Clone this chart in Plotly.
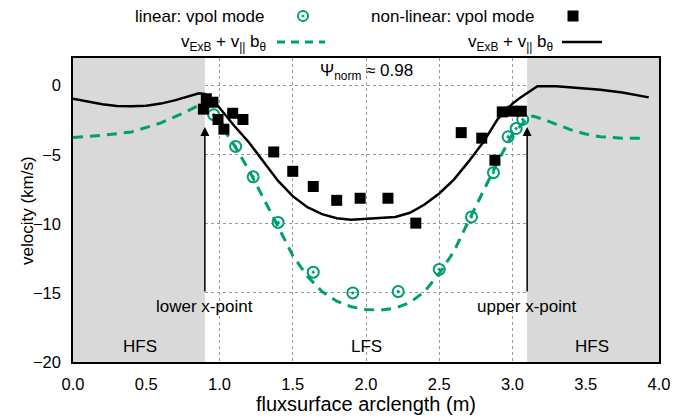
import plotly.graph_objects as go

# ---- data ----
# non-linear: vExB + v|| b_theta (solid black)
nl_line_x = [0.0, 0.1, 0.2, 0.3, 0.4, 0.5, 0.6, 0.7, 0.8, 0.86, 0.9, 0.95, 1.0, 1.1, 1.2,
             1.3, 1.4, 1.5, 1.6, 1.7, 1.8, 1.9, 2.0, 2.1, 2.2, 2.3, 2.4, 2.5, 2.6, 2.7,
             2.8, 2.9, 3.0, 3.05, 3.1, 3.17, 3.3, 3.45, 3.6, 3.75, 3.93]
nl_line_v = [-0.95, -1.15, -1.35, -1.48, -1.5, -1.45, -1.3, -1.05, -0.75, -0.55, -0.6, -1.0,
             -1.6, -2.9, -4.1, -5.5, -6.9, -8.0, -8.8, -9.3, -9.6, -9.7, -9.65, -9.6, -9.5,
             -9.2, -8.6, -7.8, -6.8, -5.5, -4.1, -2.4, -1.3, -0.9, -0.55, -0.05, -0.05,
             -0.15, -0.3, -0.5, -0.85]

# linear: vExB + v|| b_theta (dashed green)
lin_line_x = [0.0, 0.2, 0.4, 0.6, 0.75, 0.85, 0.9, 0.95, 1.0, 1.1, 1.2, 1.3, 1.4, 1.5, 1.6,
              1.7, 1.8, 1.9, 2.0, 2.1, 2.2, 2.3, 2.4, 2.5, 2.6, 2.7, 2.8, 2.9, 3.0, 3.1,
              3.14, 3.2, 3.3, 3.4, 3.5, 3.6, 3.75, 3.9]
lin_line_v = [-3.75, -3.6, -3.35, -2.7, -2.0, -1.5, -1.2, -1.9, -2.7, -4.3, -6.1, -8.1,
              -10.2, -12.3, -13.8, -14.9, -15.6, -16.0, -16.2, -16.25, -16.1, -15.7, -14.9,
              -13.6, -12.0, -9.8, -7.6, -5.5, -3.5, -2.4, -2.2, -2.4, -2.8, -3.2, -3.5,
              -3.7, -3.8, -3.8]

# linear: vpol mode (green circles)
lin_pts_x = [0.96, 1.11, 1.23, 1.40, 1.64, 1.91, 2.22, 2.50, 2.72, 2.87, 2.97, 3.025, 3.07]
lin_pts_v = [-2.1, -4.4, -6.6, -9.9, -13.5, -15.0, -14.9, -13.3, -9.5, -6.3, -3.7, -3.1, -2.45]

# non-linear: vpol mode (black squares)
nl_pts_x = [0.89, 0.91, 0.955, 0.99, 1.03, 1.09, 1.16, 1.37, 1.50, 1.64, 1.80, 1.96, 2.15,
            2.34, 2.65, 2.79, 2.88, 2.93, 3.00, 3.06]
nl_pts_v = [-1.7, -0.95, -1.2, -2.45, -3.15, -2.0, -2.45, -4.8, -6.2, -7.3, -8.3, -8.15,
            -8.15, -9.95, -3.4, -3.8, -5.4, -1.9, -1.85, -1.85]

x_ticks = [0.0, 0.5, 1.0, 1.5, 2.0, 2.5, 3.0, 3.5, 4.0]
y_ticks = [0, -5, -10, -15, -20]

hfs_left = [0.0, 0.9]
hfs_right = [3.1, 4.0]
xpoints = [0.9, 3.1]

GREEN = "#009e73"
GRAY = "#d9d9d9"
FONT = "Liberation Sans"

fig = go.Figure()

fig.add_trace(go.Scatter(x=lin_line_x, y=lin_line_v, mode="lines",
                         line=dict(color=GREEN, width=3, dash="10px,7px"),
                         showlegend=False))
fig.add_trace(go.Scatter(x=nl_line_x, y=nl_line_v, mode="lines",
                         line=dict(color="black", width=2.5),
                         showlegend=False))
fig.add_trace(go.Scatter(x=lin_pts_x, y=lin_pts_v, mode="markers",
                         marker=dict(symbol="circle-open-dot", size=11, color=GREEN,
                                     line=dict(width=2, color=GREEN)),
                         showlegend=False))
fig.add_trace(go.Scatter(x=nl_pts_x, y=nl_pts_v, mode="markers",
                         marker=dict(symbol="square", size=11, color="black"),
                         showlegend=False))

# shaded HFS regions
for x0, x1 in (hfs_left, hfs_right):
    fig.add_shape(type="rect", xref="x", yref="y", x0=x0, x1=x1, y0=-20, y1=2,
                  fillcolor=GRAY, line=dict(width=0), layer="between")

# x-point arrows
for xp in xpoints:
    fig.add_annotation(x=xp, y=-3.0, ax=xp, ay=-15, xref="x", yref="y",
                       axref="x", ayref="y", text="", showarrow=True,
                       arrowhead=2, arrowsize=1.2, arrowwidth=1.5, arrowcolor="black")

txt = dict(size=17, color="black", family=FONT)
fig.add_annotation(x=0.9, y=-16.0, text="lower x-point", showarrow=False, font=txt)
fig.add_annotation(x=3.1, y=-16.0, text="upper x-point", showarrow=False, font=txt)
fig.add_annotation(x=0.46, y=-18.9, text="HFS", showarrow=False, font=txt)
fig.add_annotation(x=2.0, y=-18.9, text="LFS", showarrow=False, font=txt)
fig.add_annotation(x=3.54, y=-18.9, text="HFS", showarrow=False, font=txt)
fig.add_annotation(x=2.0, y=1.0, text="Ψ<sub>norm</sub> ≈ 0.98", showarrow=False, font=txt)

# ---- geometry (page has an 8px body margin) ----
OFF = 8
W, H = 686 - OFF, 420 - OFF
L, R, T, B = 73 - OFF, 27, 58 - OFF, 58
pw, ph = W - L - R, H - T - B


def px(xp):  # page pixel x -> paper x
    return (xp - OFF - L) / pw


def py(yp):  # page pixel y -> paper y
    return (H - B - (yp - OFF)) / ph


# y-axis title placed as rotated text
fig.add_annotation(x=px(27), y=py(211), xref="paper", yref="paper", textangle=-90,
                   xanchor="center", yanchor="middle",
                   text="velocity (km/s)", showarrow=False, font=txt)

# ---- custom legend (gnuplot style: text then sample) ----
fig.add_annotation(x=px(266), y=py(16), xref="paper", yref="paper", xanchor="right",
                   yanchor="middle", text="linear: vpol mode", showarrow=False, font=txt)
fig.add_annotation(x=px(536), y=py(16), xref="paper", yref="paper", xanchor="right",
                   yanchor="middle", text="non-linear: vpol mode", showarrow=False, font=txt)
vlab = "v<sub>ExB</sub> + v<sub>||</sub> b<sub>θ</sub>"
fig.add_annotation(x=px(268), y=py(43), xref="paper", yref="paper", xanchor="right",
                   yanchor="middle", text=vlab, showarrow=False, font=txt)
fig.add_annotation(x=px(555), y=py(43), xref="paper", yref="paper", xanchor="right",
                   yanchor="middle", text=vlab, showarrow=False, font=txt)

fig.add_shape(type="circle", xref="paper", yref="paper", xsizemode="pixel",
              ysizemode="pixel", xanchor=px(303), yanchor=py(16), x0=-5, x1=5, y0=-5, y1=5,
              line=dict(color=GREEN, width=2))
fig.add_shape(type="circle", xref="paper", yref="paper", xsizemode="pixel",
              ysizemode="pixel", xanchor=px(303), yanchor=py(16), x0=-1, x1=1, y0=-1, y1=1,
              fillcolor=GREEN, line=dict(color=GREEN, width=1))
fig.add_shape(type="rect", xref="paper", yref="paper", xsizemode="pixel",
              ysizemode="pixel", xanchor=px(573), yanchor=py(16), x0=-5.5, x1=5.5,
              y0=-5.5, y1=5.5, fillcolor="black", line=dict(width=0))
fig.add_shape(type="line", xref="paper", yref="paper", x0=px(277), x1=px(325),
              y0=py(42), y1=py(42), line=dict(color=GREEN, width=3, dash="8px,6px"))
fig.add_shape(type="line", xref="paper", yref="paper", x0=px(562), x1=px(602),
              y0=py(42), y1=py(42), line=dict(color="black", width=2.5))

fig.update_layout(
    width=W, height=H,
    margin=dict(l=L, r=R, t=T, b=B, pad=0, autoexpand=False),
    paper_bgcolor="white", plot_bgcolor="white",
    font=dict(family=FONT, size=17, color="black"),
    showlegend=False,
    xaxis=dict(range=[0, 4], tickvals=x_ticks, ticktext=[f"{v:.1f}" for v in x_ticks],
               showgrid=True, gridcolor="#999999", griddash="dot", gridwidth=1,
               zeroline=False, showline=True, linecolor="black", linewidth=1.5,
               mirror=True, ticks="outside", ticklen=6, tickcolor="rgba(0,0,0,0)",
               automargin=False,
               title=dict(text="fluxsurface arclength (m)", standoff=2),
               tickfont=dict(size=16.5)),
    yaxis=dict(range=[-20, 2], tickvals=y_ticks, showgrid=True, gridcolor="#999999",
               griddash="dot", gridwidth=1, zeroline=False, showline=True,
               linecolor="black", linewidth=1.5, mirror=True,
               ticks="outside", ticklen=7, tickcolor="rgba(0,0,0,0)",
               automargin=False, tickfont=dict(size=16.5)),
)

fig.write_html("out.html")
